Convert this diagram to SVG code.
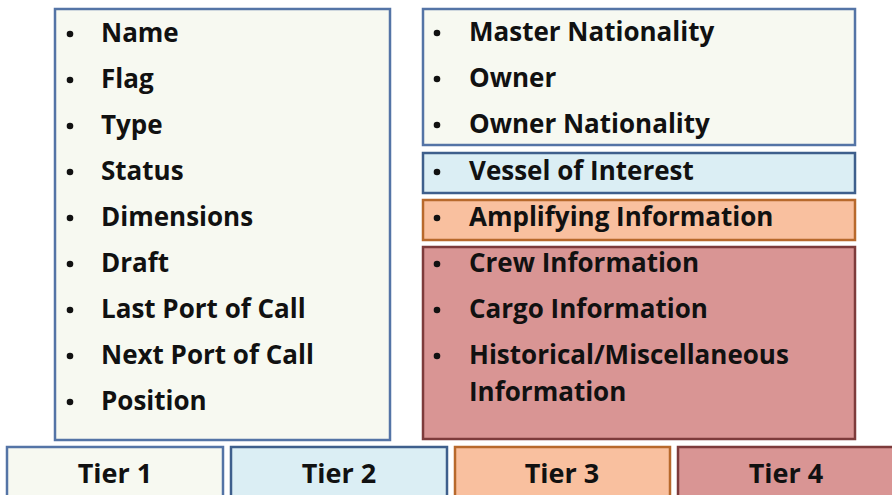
<svg xmlns="http://www.w3.org/2000/svg" width="892" height="495" viewBox="0 0 892 495">
<style>
text{font-family:"Open Sans","Liberation Sans",sans-serif;font-weight:bold;font-size:26px;fill:#111}
.c{text-anchor:middle;font-size:27px}
.t1{fill:#f7f9f1;stroke:#5474a6;stroke-width:2.5}
.t2{fill:#dbeef4;stroke:#3e5f8c;stroke-width:2.5}
.t3{fill:#f9c09f;stroke:#b8692c;stroke-width:2.5}
.t4{fill:#d99594;stroke:#7d3b3b;stroke-width:2.5}
.b{fill:#111}
</style>
<rect width="892" height="495" fill="#fff"/>
<g id="tier1-box">
<rect class="t1" x="55" y="9" width="335" height="431"/>
<g class="b"><circle cx="70" cy="34" r="3.3"/><circle cx="70" cy="80" r="3.3"/><circle cx="70" cy="126" r="3.3"/><circle cx="70" cy="172" r="3.3"/><circle cx="70" cy="218" r="3.3"/><circle cx="70" cy="264" r="3.3"/><circle cx="70" cy="310" r="3.3"/><circle cx="70" cy="356" r="3.3"/><circle cx="70" cy="402" r="3.3"/></g>
<text x="101" y="42">Name</text>
<text x="101" y="88">Flag</text>
<text x="101" y="134">Type</text>
<text x="101" y="180">Status</text>
<text x="101" y="226">Dimensions</text>
<text x="101" y="272">Draft</text>
<text x="101" y="318">Last Port of Call</text>
<text x="101" y="364">Next Port of Call</text>
<text x="101" y="410">Position</text>
</g>
<g id="tier1-extra">
<rect class="t1" x="423" y="9" width="432" height="136"/>
<g class="b"><circle cx="437" cy="33" r="3.3"/><circle cx="437" cy="79" r="3.3"/><circle cx="437" cy="125" r="3.3"/></g>
<text x="469" y="41">Master Nationality</text>
<text x="469" y="87">Owner</text>
<text x="469" y="133">Owner Nationality</text>
</g>
<g id="tier2-box">
<rect class="t2" x="423" y="153" width="432" height="40"/>
<circle class="b" cx="437" cy="172" r="3.3"/>
<text x="469" y="180">Vessel of Interest</text>
</g>
<g id="tier3-box">
<rect class="t3" x="423" y="200" width="432" height="40"/>
<circle class="b" cx="437" cy="218" r="3.3"/>
<text x="469" y="226">Amplifying Information</text>
</g>
<g id="tier4-box">
<rect class="t4" x="423" y="247" width="432" height="192"/>
<g class="b"><circle cx="437" cy="264" r="3.3"/><circle cx="437" cy="310" r="3.3"/><circle cx="437" cy="356" r="3.3"/></g>
<text x="469" y="272">Crew Information</text>
<text x="469" y="318">Cargo Information</text>
<text x="469" y="364">Historical/Miscellaneous</text>
<text x="469" y="401">Information</text>
</g>
<g id="legend-tier1"><rect class="t1" x="7" y="447" width="216" height="52"/><text class="c" x="115" y="483">Tier 1</text></g>
<g id="legend-tier2"><rect class="t2" x="231" y="447" width="216" height="52"/><text class="c" x="339" y="483">Tier 2</text></g>
<g id="legend-tier3"><rect class="t3" x="455" y="447" width="215" height="52"/><text class="c" x="562" y="483">Tier 3</text></g>
<g id="legend-tier4"><rect class="t4" x="678" y="447" width="216" height="52"/><text class="c" x="786" y="483">Tier 4</text></g>
<g id="connectors"/>
</svg>
